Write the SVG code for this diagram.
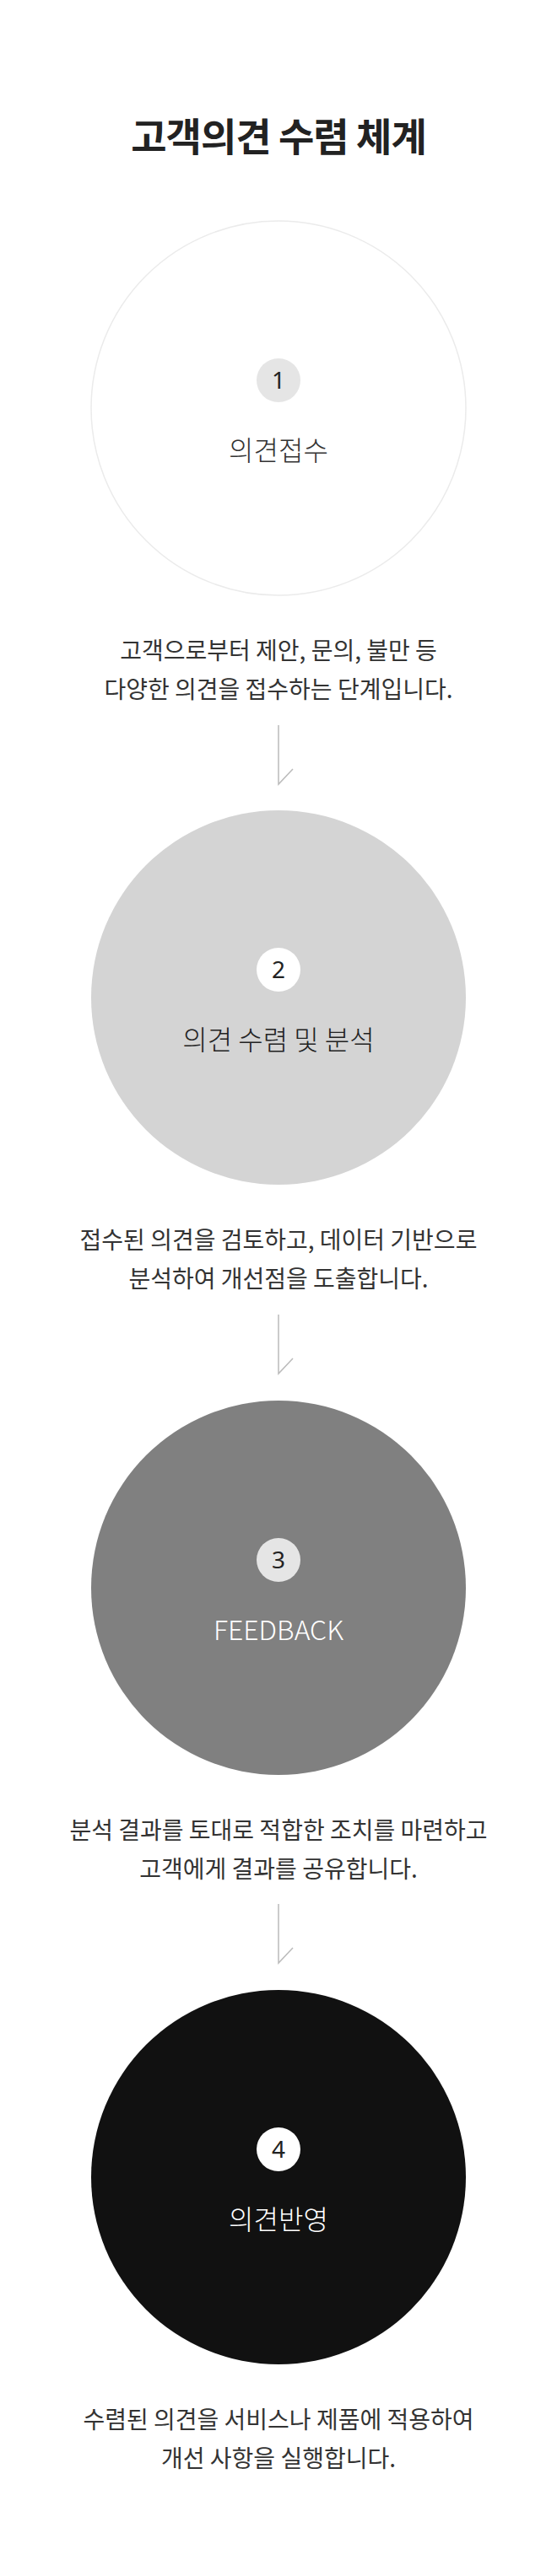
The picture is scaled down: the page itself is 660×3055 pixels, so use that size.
<svg xmlns="http://www.w3.org/2000/svg" width="660" height="3055" viewBox="0 0 660 3055">
<style>
text{font-family:"Noto Sans CJK KR","Noto Sans",sans-serif;text-anchor:middle}
.title{font-size:46px;font-weight:700;fill:#222;letter-spacing:-1px}
.num{font-size:28px;fill:#222;font-family:"Noto Sans","Noto Sans CJK KR",sans-serif}
.lbl{font-size:32px;font-weight:300}
.desc{font-size:28px;fill:#333}
.conn{stroke:#bbb;stroke-width:1.5;fill:none}
</style>
<rect width="660" height="3055" fill="#fff"/>
<text class="title" x="330" y="179">고객의견 수렴 체계</text>
<g id="node1">
<circle cx="330" cy="484" r="222" fill="#fff" stroke="#ebebeb" stroke-width="1.5"/>
<circle cx="330" cy="451" r="26" fill="#e5e5e5"/>
<text class="num" x="330" y="461">1</text>
<text class="lbl" x="330" y="546" fill="#333">의견접수</text>
<text class="desc" x="330" y="782">고객으로부터 제안, 문의, 불만 등</text>
<text class="desc" x="330" y="828">다양한 의견을 접수하는 단계입니다.</text>
</g>
<g id="node2">
<circle cx="330" cy="1183" r="222" fill="#d4d4d4"/>
<circle cx="330" cy="1150" r="26" fill="#fff"/>
<text class="num" x="330" y="1160">2</text>
<text class="lbl" x="330" y="1245" fill="#222">의견 수렴 및 분석</text>
<text class="desc" x="330" y="1481">접수된 의견을 검토하고, 데이터 기반으로</text>
<text class="desc" x="330" y="1527">분석하여 개선점을 도출합니다.</text>
</g>
<g id="node3">
<circle cx="330" cy="1883" r="222" fill="#808080"/>
<circle cx="330" cy="1850" r="26" fill="#e5e5e5"/>
<text class="num" x="330" y="1860">3</text>
<text class="lbl" x="330" y="1945" fill="#fff">FEEDBACK</text>
<text class="desc" x="330" y="2181">분석 결과를 토대로 적합한 조치를 마련하고</text>
<text class="desc" x="330" y="2227">고객에게 결과를 공유합니다.</text>
</g>
<g id="node4">
<circle cx="330" cy="2582" r="222" fill="#111"/>
<circle cx="330" cy="2549" r="26" fill="#fff"/>
<text class="num" x="330" y="2559">4</text>
<text class="lbl" x="330" y="2644" fill="#fff">의견반영</text>
<text class="desc" x="330" y="2880">수렴된 의견을 서비스나 제품에 적용하여</text>
<text class="desc" x="330" y="2926">개선 사항을 실행합니다.</text>
</g>
<g id="connectors">
<path class="conn" d="M330 860 V930 L347 912"/>
<path class="conn" d="M330 1559 V1629 L347 1611"/>
<path class="conn" d="M330 2258 V2328 L347 2310"/>
</g>
</svg>
